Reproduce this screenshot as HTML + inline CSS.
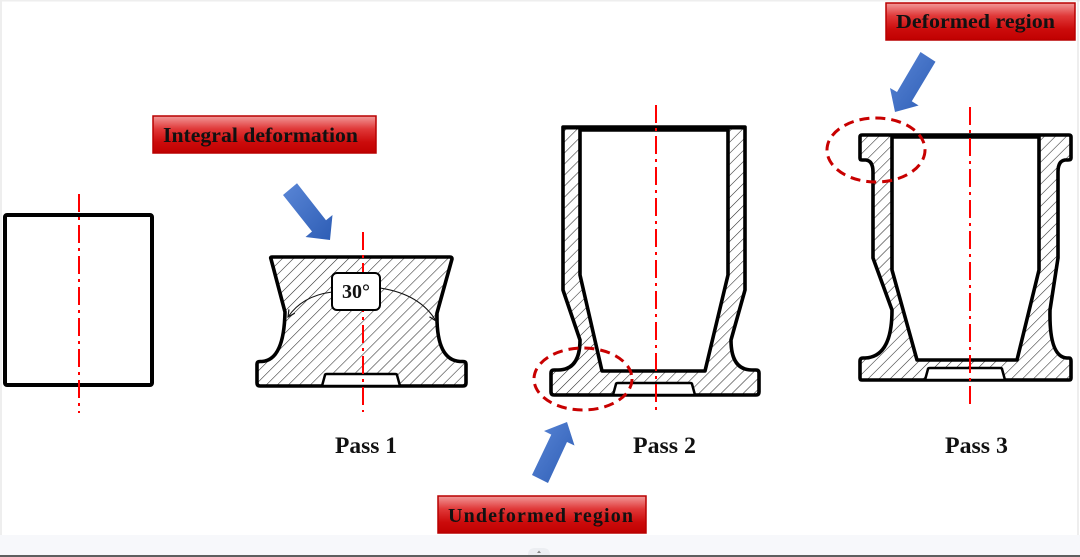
<!DOCTYPE html>
<html>
<head>
<meta charset="utf-8">
<style>
html,body{margin:0;padding:0;background:#fff;}
body{width:1080px;height:557px;overflow:hidden;position:relative;}
svg{position:absolute;left:0;top:0;}
</style>
</head>
<body>
<svg width="1080" height="557" viewBox="0 0 1080 557" xmlns="http://www.w3.org/2000/svg">
<defs>
  <pattern id="hatch" patternUnits="userSpaceOnUse" width="7.8" height="7.8" patternTransform="rotate(45)">
    <rect width="7.8" height="7.8" fill="#fff"/>
    <line x1="0" y1="0" x2="0" y2="7.8" stroke="#2a2a2a" stroke-width="1.1"/>
  </pattern>
  <linearGradient id="lbl" x1="0" y1="0" x2="0" y2="1">
    <stop offset="0" stop-color="#f29a9a"/>
    <stop offset="0.35" stop-color="#e03838"/>
    <stop offset="0.7" stop-color="#cc0c0c"/>
    <stop offset="1" stop-color="#c00000"/>
  </linearGradient>
  <linearGradient id="blue" x1="0" y1="0" x2="1" y2="1">
    <stop offset="0" stop-color="#5a86d6"/>
    <stop offset="1" stop-color="#2d5db5"/>
  </linearGradient>
  <marker id="ah" markerWidth="8" markerHeight="8" refX="7" refY="4" orient="auto" markerUnits="userSpaceOnUse">
    <path d="M0,0.5 L7,4 L0,7.5" fill="none" stroke="#111" stroke-width="1.2"/>
  </marker>
</defs>

<!-- frame edges -->
<rect x="0" y="0" width="1080" height="1.5" fill="#eeeeee"/>
<rect x="0" y="0" width="2" height="535" fill="#eeeeee"/>
<rect x="1077.5" y="0" width="1" height="535" fill="#dcdcdc"/>
<rect x="0" y="535" width="1080" height="20" fill="#f7f8fb"/>
<rect x="0" y="555" width="1080" height="2" fill="#5f5f5f"/>
<path d="M528,555 Q528,548 535,548 L543,548 Q550,548 550,555 Z" fill="#eceef2"/>
<path d="M537,553 L539,550.5 L541,553 Z" fill="#888"/>

<!-- Pass 0 rectangle -->
<rect x="5" y="215" width="147" height="170" rx="2" fill="#fff" stroke="#000" stroke-width="4"/>
<line x1="79" y1="194" x2="79" y2="413" stroke="#ff0000" stroke-width="2" stroke-dasharray="18 5 3 5"/>

<!-- Pass 1 -->
<path d="M272,257 L450,257 Q452,257 452,259 L437,313 Q436,360 460,361.5 L463,361.5 Q466,361.5 466,364 L466,383 Q466,386 463,386 L260,386 Q257,386 257,383 L257,364 Q257,361.5 260,361.5 L262,361.5 Q284,360 285,312 L271,259 Q270,257 272,257 Z" fill="url(#hatch)" stroke="#000" stroke-width="3.6" stroke-linejoin="round"/>
<path d="M322,386 L325,375 Q325,374 327,374 L395,374 Q397,374 397,375 L400,386 Z" fill="#fff" stroke="#000" stroke-width="2.5" stroke-linejoin="round"/>
<line x1="363" y1="232" x2="363" y2="412" stroke="#ff0000" stroke-width="2" stroke-dasharray="18 5 3 5"/>
<path d="M332,292 Q302,296 288,317" fill="none" stroke="#111" stroke-width="1.1" marker-end="url(#ah)"/>
<path d="M380,288 Q420,294 436,321" fill="none" stroke="#111" stroke-width="1.1" marker-end="url(#ah)"/>
<rect x="332" y="273" width="48" height="37" rx="5" fill="#fff" stroke="#000" stroke-width="2"/>
<text x="356" y="298" font-family="Liberation Serif, serif" font-weight="bold" font-size="20" text-anchor="middle" fill="#111">30°</text>

<!-- Pass 2 -->
<path fill-rule="evenodd" d="M563,127 L745,127 L745,290 L731,340 Q731,370 752,370 L756,370 Q759,370 759,373 L759,392 Q759,395 756,395 L554,395 Q551,395 551,392 L551,373 Q551,370 554,370 L558,370 Q580,370 580,340 L563,290 Z M580,130 L728,130 L728,275 L705,371 L602,371 L580,275 Z" fill="url(#hatch)" stroke="#000" stroke-width="3.6" stroke-linejoin="round"/>
<line x1="563" y1="127.5" x2="745" y2="127.5" stroke="#000" stroke-width="4"/>
<path d="M613,395 L616,384 Q616,383 618,383 L690,383 Q692,383 692,384 L695,395 Z" fill="#fff" stroke="#000" stroke-width="2.5" stroke-linejoin="round"/>
<line x1="656" y1="105" x2="656" y2="415" stroke="#ff0000" stroke-width="2" stroke-dasharray="18 5 3 5"/>
<ellipse cx="583" cy="379" rx="49" ry="31" fill="none" stroke="#c80000" stroke-width="3" stroke-dasharray="10 6"/>

<!-- Pass 3 -->
<path fill-rule="evenodd" d="M862,135 L1069,135 Q1071,135 1071,137 L1071,158 Q1071,160 1068,160 L1065,160 Q1058,161 1058,172 L1058,258 L1050,310 Q1049,357 1067,358 L1069,358 Q1071,358 1071,361 L1071,378 Q1071,380 1069,380 L862,380 Q860,380 860,378 L860,361 Q860,358 863,358 L865,358 Q892,357 892,310 L873,258 L873,172 Q873,161 866,160 L862,160 Q860,160 860,158 L860,137 Q860,135 862,135 Z M892,137 L1039,137 L1039,270 L1017,360 L917,360 L892,270 Z" fill="url(#hatch)" stroke="#000" stroke-width="3.6" stroke-linejoin="round"/>
<path d="M925,380 L928,369 Q928,368 930,368 L1000,368 Q1002,368 1002,369 L1005,380 Z" fill="#fff" stroke="#000" stroke-width="2.5" stroke-linejoin="round"/>
<line x1="970" y1="107" x2="970" y2="407" stroke="#ff0000" stroke-width="2" stroke-dasharray="18 5 3 5"/>
<ellipse cx="876" cy="150" rx="49" ry="32" fill="none" stroke="#c80000" stroke-width="3" stroke-dasharray="10 6"/>

<!-- Blue arrows -->
<polygon points="283,195 312,231.5 305.5,237 330,240 332.5,215 326,220.3 297,183.2" fill="url(#blue)"/>
<polygon points="920.5,52 897,92 890,88 895,112 918.6,105.5 911.8,101.3 935.5,61.8" fill="url(#blue)"/>
<polygon points="548,483 567,442 574.5,445.5 567,422 544,431 551.3,434.6 532,475" fill="url(#blue)"/>

<!-- Labels -->
<rect x="153" y="116" width="223" height="37" fill="url(#lbl)" stroke="#b80000" stroke-width="1.5"/>
<text x="163" y="142" font-family="Liberation Serif, serif" font-weight="bold" font-size="21" textLength="195" lengthAdjust="spacingAndGlyphs" fill="#111">Integral deformation</text>

<rect x="886" y="3" width="189" height="37" fill="url(#lbl)" stroke="#b80000" stroke-width="1.5"/>
<text x="896" y="28" font-family="Liberation Serif, serif" font-weight="bold" font-size="20" textLength="159" lengthAdjust="spacingAndGlyphs" fill="#111">Deformed region</text>

<rect x="438" y="496" width="208" height="37" fill="url(#lbl)" stroke="#b80000" stroke-width="1.5"/>
<text x="448" y="522" font-family="Liberation Serif, serif" font-weight="bold" font-size="20" textLength="185" lengthAdjust="spacing" fill="#111">Undeformed region</text>

<!-- Pass labels -->
<text x="335" y="453" font-family="Liberation Serif, serif" font-weight="bold" font-size="23" textLength="62" lengthAdjust="spacingAndGlyphs" fill="#111">Pass 1</text>
<text x="633" y="453" font-family="Liberation Serif, serif" font-weight="bold" font-size="23" textLength="63" lengthAdjust="spacingAndGlyphs" fill="#111">Pass 2</text>
<text x="945" y="453" font-family="Liberation Serif, serif" font-weight="bold" font-size="23" textLength="63" lengthAdjust="spacingAndGlyphs" fill="#111">Pass 3</text>
</svg>
</body>
</html>
